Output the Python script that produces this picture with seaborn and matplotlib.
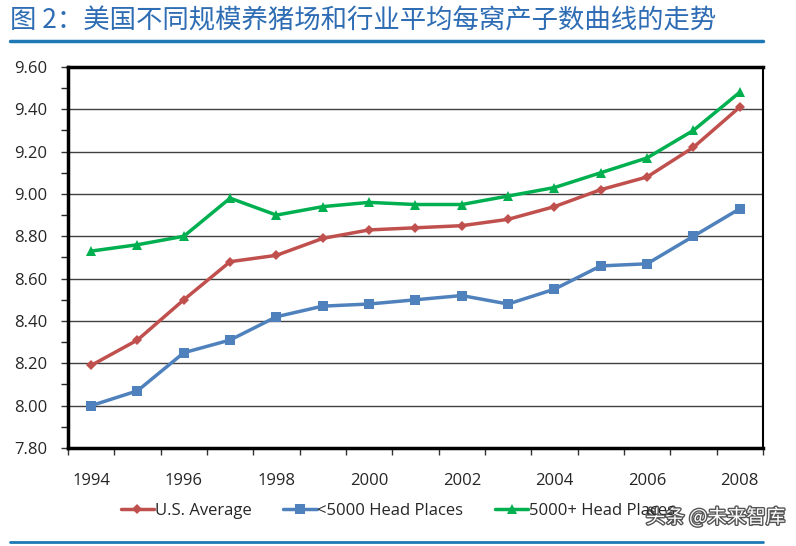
import matplotlib
matplotlib.use("Agg")
import matplotlib.pyplot as plt
import matplotlib.patheffects as pe
from matplotlib.ticker import MultipleLocator
import seaborn as sns
import pandas as pd

# Data
years = list(range(1994, 2009))
us_average = [8.19, 8.31, 8.50, 8.68, 8.71, 8.79, 8.83, 8.84, 8.85, 8.88, 8.94, 9.02, 9.08, 9.22, 9.41]
small_farms = [8.00, 8.07, 8.25, 8.31, 8.42, 8.47, 8.48, 8.50, 8.52, 8.48, 8.55, 8.66, 8.67, 8.80, 8.93]
large_farms = [8.73, 8.76, 8.80, 8.98, 8.90, 8.94, 8.96, 8.95, 8.95, 8.99, 9.03, 9.10, 9.17, 9.30, 9.48]
series_names = ["U.S. Average", "<5000 Head Places", "5000+ Head Places"]

df = pd.DataFrame({
    "Year": years * 3,
    "Value": us_average + small_farms + large_farms,
    "Series": [series_names[0]] * 15 + [series_names[1]] * 15 + [series_names[2]] * 15,
})

sns.set_style("white")
plt.rcParams['font.family'] = ['Open Sans', 'Noto Sans CJK SC', 'DejaVu Sans']

palette = {series_names[0]: "#C0504D", series_names[1]: "#4F81BD", series_names[2]: "#00B050"}
markers = {series_names[0]: "D", series_names[1]: "s", series_names[2]: "^"}
msizes = {series_names[0]: 5, series_names[1]: 7, series_names[2]: 7}

fig = plt.figure(figsize=(7.96, 5.46), dpi=100)
ax = fig.add_axes([0.0854, 0.1795, 0.873, 0.698])

for name in series_names:
    sub = df[df["Series"] == name]
    sns.lineplot(data=sub, x="Year", y="Value", ax=ax, color=palette[name], linewidth=2.5,
                 marker=markers[name], markersize=msizes[name], markeredgewidth=0,
                 label=name, legend=False)

ax.set_xlim(1993.5, 2008.5)
ax.set_ylim(7.8, 9.6)
ax.yaxis.set_major_locator(MultipleLocator(0.2))
ax.yaxis.set_minor_locator(MultipleLocator(0.1))
ax.set_xticks(years[::2])
ax.set_xticks([y + 0.5 for y in range(1993, 2009)], minor=True)
ax.set_yticklabels([f"{v:.2f}" for v in ax.get_yticks()])
ax.tick_params(axis="both", which="major", labelsize=12, color="#333333")
ax.tick_params(axis="x", which="major", length=0, pad=18)
ax.tick_params(axis="x", which="minor", length=5, width=1, color="#333333", direction="out", bottom=True)
ax.tick_params(axis="y", which="both", length=5, width=1, direction="out", left=True)
ax.tick_params(axis="y", which="major", pad=10)
ax.grid(axis="y", which="major", color="#404040", linewidth=1)
ax.set_xlabel("")
ax.set_ylabel("")

for side in ["left", "top", "bottom"]:
    ax.spines[side].set_color("black")
    ax.spines[side].set_linewidth(2.5)
ax.spines["right"].set_color("black")
ax.spines["right"].set_linewidth(1.5)

handles, labels = ax.get_legend_handles_labels()
fig.legend(handles, labels, loc="center", bbox_to_anchor=(0.5, 0.064), ncol=3,
           frameon=False, fontsize=12, handlelength=2.0, handletextpad=0.05, columnspacing=1.9)

# Title and rules
fig.text(0.012, 0.962, "图 2：美国不同规模养猪场和行业平均每窝产子数曲线的走势",
         fontsize=19, color="#2E6DB4", va="center", ha="left",
         family=['Noto Sans CJK SC', 'DejaVu Sans'])
fig.add_artist(plt.Line2D([0.012, 0.958], [0.925, 0.925], color="#1F78B4", linewidth=2.5))
fig.add_artist(plt.Line2D([0.012, 0.958], [0.008, 0.008], color="#1F78B4", linewidth=2))

# Watermark
fig.text(0.987, 0.052, "头条 @未来智库", fontsize=14, color="white", ha="right", va="center",
         family=['Noto Sans CJK SC', 'DejaVu Sans'],
         path_effects=[pe.withStroke(linewidth=2, foreground="#555555")])

fig.savefig("out.png", dpi=100)
